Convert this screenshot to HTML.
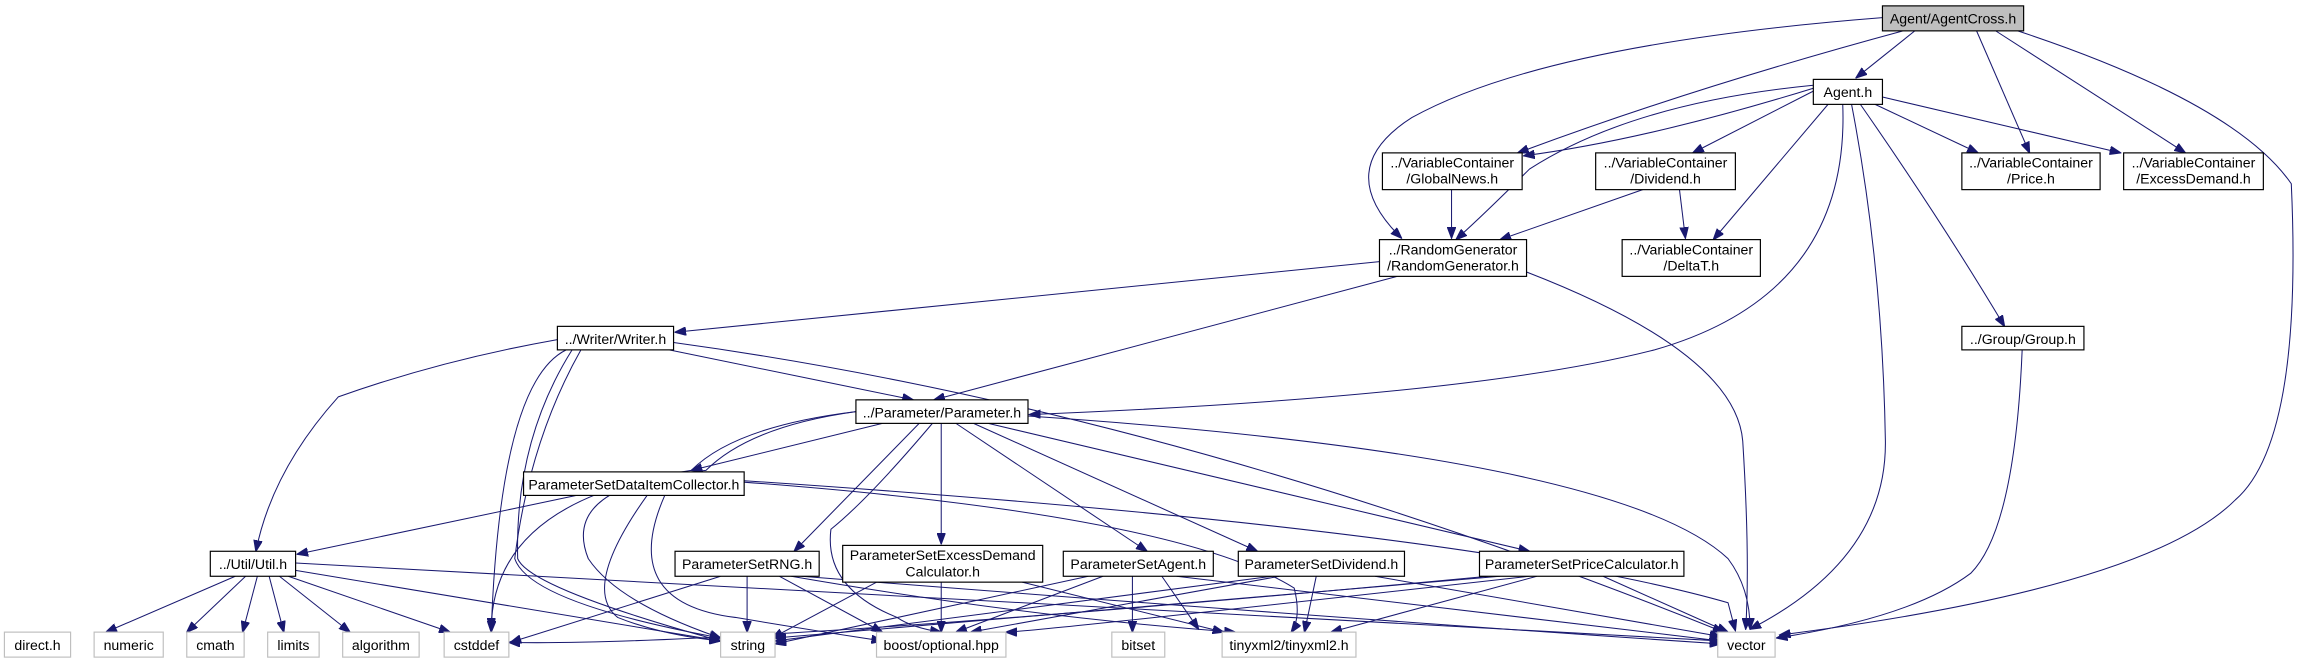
<!DOCTYPE html>
<html><head><meta charset="utf-8"><style>
html,body{margin:0;padding:0;background:#fff;}
svg{display:block;}
text{font-family:"Liberation Sans",sans-serif;font-size:9.6px;fill:#000;}
.n{fill:#fff;stroke:#000;stroke-width:0.8;}
.g{fill:#fff;stroke:#bfbfbf;stroke-width:0.8;}
.e{fill:none;stroke:#191970;stroke-width:0.7;}
</style></head><body>
<svg width="2306" height="663" viewBox="0 0 1568 451" preserveAspectRatio="none" xmlns="http://www.w3.org/2000/svg">
<defs><marker id="a" markerWidth="8" markerHeight="6" refX="7.5" refY="3" orient="auto" markerUnits="userSpaceOnUse"><path d="M0,0 L8,3 L0,6 z" fill="#191970" stroke="#191970" stroke-width="0.5"/></marker></defs>
<g class="e" marker-end="url(#a)">
<path d="M1302,21 L1262,53"/>
<path d="M1294,21 Q1150,60 1032,104"/>
<path d="M1280,12 Q1050,30 960,80 Q905,115 953,162"/>
<path d="M1344,21 L1380,104"/>
<path d="M1357,21 L1486,104"/>
<path d="M1372,21 Q1520,70 1558,125 Q1566,300 1520,340 Q1460,400 1210,432"/>
<path d="M1233,60 Q1120,95 1036,106"/>
<path d="M1233,58 Q1110,70 1040,115 Q1010,145 990,163"/>
<path d="M1233,62 L1151,104"/>
<path d="M1243,71 L1165,163"/>
<path d="M1275,71 L1345,104"/>
<path d="M1280,66 L1442,104"/>
<path d="M1253,71 Q1258,200 1125,238 Q1000,270 700,282"/>
<path d="M1259,71 Q1280,180 1282,300 Q1283,380 1190,428"/>
<path d="M1265,71 Q1320,150 1363,222"/>
<path d="M987,129 L987,162"/>
<path d="M1117,129 L1020,163"/>
<path d="M1142,129 L1146,162"/>
<path d="M938,178 L459,226"/>
<path d="M950,188 L635,272"/>
<path d="M1038,185 Q1180,240 1185,300 Q1190,380 1187,428"/>
<path d="M1375,238 Q1370,360 1340,390 Q1300,420 1208,434"/>
<path d="M379,231 Q300,245 230,270 Q185,320 174,375" />
<path d="M385,238 Q340,260 334,430"/>
<path d="M389,238 Q350,300 352,380 Q360,400 490,436"/>
<path d="M395,238 Q360,300 350,380 Q360,410 490,434"/>
<path d="M455,238 L621,272"/>
<path d="M458,233 Q800,280 1172,430"/>
<path d="M582,280 Q500,290 470,320 Q335,340 334,428"/>
<path d="M582,280 Q510,290 480,320 Q380,330 400,380 Q420,410 490,434"/>
<path d="M600,288 L470,320"/>
<path d="M625,288 L540,375"/>
<path d="M634,288 Q590,340 565,360 Q560,400 610,420 Q620,427 640,430"/>
<path d="M640,288 L640,370"/>
<path d="M650,288 L780,375"/>
<path d="M662,288 L855,375"/>
<path d="M672,288 L1040,375"/>
<path d="M699,283 Q1100,310 1175,380 Q1190,400 1190,428"/>
<path d="M392,337 L202,377"/>
<path d="M440,337 Q395,400 420,420 Q450,432 490,436"/>
<path d="M452,337 Q420,410 500,420 Q560,430 600,436"/>
<path d="M506,327 Q1000,360 1175,410 L1180,429"/>
<path d="M506,328 Q800,350 880,400 Q885,420 878,430"/>
<path d="M160,392 L72,430"/>
<path d="M167,392 L127,430"/>
<path d="M175,392 L165,430"/>
<path d="M183,392 L193,430"/>
<path d="M190,392 L238,430"/>
<path d="M196,392 L306,430"/>
<path d="M201,388 L490,436"/>
<path d="M201,383 Q700,410 1170,436"/>
<path d="M490,392 L347,437"/>
<path d="M508,392 L508,430"/>
<path d="M530,392 L600,430"/>
<path d="M538,392 Q700,420 840,430"/>
<path d="M545,392 Q900,420 1170,438"/>
<path d="M596,396 L525,434"/>
<path d="M640,396 L640,430"/>
<path d="M695,396 L832,430"/>
<path d="M740,392 L527,438"/>
<path d="M750,392 L650,430"/>
<path d="M770,392 L770,430"/>
<path d="M790,392 L815,428"/>
<path d="M800,392 L1170,436"/>
<path d="M865,392 L527,436"/>
<path d="M870,392 L660,430"/>
<path d="M895,392 L887,430"/>
<path d="M935,392 L1170,433"/>
<path d="M1012,392 Q500,440 346,437"/>
<path d="M1040,392 Q700,430 684,430"/>
<path d="M1020,392 L527,434"/>
<path d="M1045,392 L905,430"/>
<path d="M1090,392 L1175,430"/>
</g>
<rect class="n" x="1280" y="4" width="96" height="17" style="fill:#bfbfbf"/><text x="1328" y="16" text-anchor="middle">Agent/AgentCross.h</text>
<rect class="n" x="1233" y="54" width="47" height="17"/><text x="1256.5" y="66" text-anchor="middle">Agent.h</text>
<rect class="n" x="940" y="104" width="95" height="25"/><text x="987.5" y="114" text-anchor="middle">../VariableContainer</text><text x="987.5" y="125" text-anchor="middle">/GlobalNews.h</text>
<rect class="n" x="1085" y="104" width="95" height="25"/><text x="1132.5" y="114" text-anchor="middle">../VariableContainer</text><text x="1132.5" y="125" text-anchor="middle">/Dividend.h</text>
<rect class="n" x="1334" y="104" width="94" height="25"/><text x="1381" y="114" text-anchor="middle">../VariableContainer</text><text x="1381" y="125" text-anchor="middle">/Price.h</text>
<rect class="n" x="1444" y="104" width="95" height="25"/><text x="1491.5" y="114" text-anchor="middle">../VariableContainer</text><text x="1491.5" y="125" text-anchor="middle">/ExcessDemand.h</text>
<rect class="n" x="938" y="163" width="100" height="25"/><text x="988" y="173" text-anchor="middle">../RandomGenerator</text><text x="988" y="184" text-anchor="middle">/RandomGenerator.h</text>
<rect class="n" x="1103" y="163" width="94" height="25"/><text x="1150" y="173" text-anchor="middle">../VariableContainer</text><text x="1150" y="184" text-anchor="middle">/DeltaT.h</text>
<rect class="n" x="379" y="222" width="79" height="16"/><text x="418.5" y="234" text-anchor="middle">../Writer/Writer.h</text>
<rect class="n" x="1334" y="222" width="83" height="16"/><text x="1375.5" y="234" text-anchor="middle">../Group/Group.h</text>
<rect class="n" x="582" y="272" width="117" height="16"/><text x="640.5" y="284" text-anchor="middle">../Parameter/Parameter.h</text>
<rect class="n" x="356" y="321" width="150" height="16"/><text x="431" y="333" text-anchor="middle">ParameterSetDataItemCollector.h</text>
<rect class="n" x="143" y="375" width="58" height="17"/><text x="172" y="387" text-anchor="middle">../Util/Util.h</text>
<rect class="n" x="459" y="375" width="98" height="17"/><text x="508" y="387" text-anchor="middle">ParameterSetRNG.h</text>
<rect class="n" x="573" y="371" width="136" height="25"/><text x="641" y="381" text-anchor="middle">ParameterSetExcessDemand</text><text x="641" y="392" text-anchor="middle">Calculator.h</text>
<rect class="n" x="723" y="375" width="102" height="17"/><text x="774" y="387" text-anchor="middle">ParameterSetAgent.h</text>
<rect class="n" x="842" y="375" width="113" height="17"/><text x="898.5" y="387" text-anchor="middle">ParameterSetDividend.h</text>
<rect class="n" x="1006" y="375" width="139" height="17"/><text x="1075.5" y="387" text-anchor="middle">ParameterSetPriceCalculator.h</text>
<g>
<rect class="g" x="3" y="430" width="45" height="17"/><text x="25.5" y="442" text-anchor="middle">direct.h</text>
<rect class="g" x="64" y="430" width="47" height="17"/><text x="87.5" y="442" text-anchor="middle">numeric</text>
<rect class="g" x="127" y="430" width="39" height="17"/><text x="146.5" y="442" text-anchor="middle">cmath</text>
<rect class="g" x="182" y="430" width="35" height="17"/><text x="199.5" y="442" text-anchor="middle">limits</text>
<rect class="g" x="233" y="430" width="52" height="17"/><text x="259" y="442" text-anchor="middle">algorithm</text>
<rect class="g" x="302" y="430" width="44" height="17"/><text x="324" y="442" text-anchor="middle">cstddef</text>
<rect class="g" x="490" y="430" width="37" height="17"/><text x="508.5" y="442" text-anchor="middle">string</text>
<rect class="g" x="596" y="430" width="88" height="17"/><text x="640" y="442" text-anchor="middle">boost/optional.hpp</text>
<rect class="g" x="756" y="430" width="36" height="17"/><text x="774" y="442" text-anchor="middle">bitset</text>
<rect class="g" x="831" y="430" width="91" height="17"/><text x="876.5" y="442" text-anchor="middle">tinyxml2/tinyxml2.h</text>
<rect class="g" x="1168" y="430" width="39" height="17"/><text x="1187.5" y="442" text-anchor="middle">vector</text>
</g>
</svg>
</body></html>
